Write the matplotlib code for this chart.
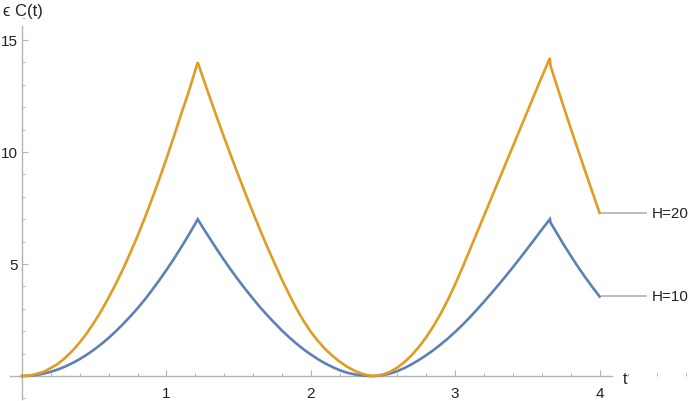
import matplotlib
matplotlib.use("Agg")
import matplotlib.pyplot as plt
from matplotlib.ticker import MultipleLocator

# ---- data (t, eps*C(t)) ----
t_vals = [0.0, 0.05, 0.1, 0.15, 0.2, 0.25, 0.3, 0.35, 0.4, 0.45, 0.5, 0.55, 0.6,
          0.65, 0.7, 0.75, 0.8, 0.85, 0.9, 0.95, 1.0, 1.05, 1.1, 1.15, 1.2, 1.217,
          1.25, 1.3, 1.35, 1.4, 1.45, 1.5, 1.55, 1.6, 1.65, 1.7, 1.75, 1.8, 1.85,
          1.9, 1.95, 2.0, 2.05, 2.1, 2.15, 2.2, 2.25, 2.3, 2.35, 2.4, 2.425,
          2.45, 2.5, 2.55, 2.6, 2.65, 2.7, 2.75, 2.8, 2.85, 2.9, 2.95, 3.0, 3.05,
          3.1, 3.15, 3.2, 3.25, 3.3, 3.35, 3.4, 3.45, 3.5, 3.55, 3.6, 3.656, 3.66,
          3.7, 3.75, 3.8, 3.85, 3.9, 3.95, 4.0]

c_h10 = [0.0, 0.012, 0.047, 0.106, 0.19, 0.295, 0.425, 0.58, 0.756, 0.957, 1.18, 1.43, 1.7,
         2.0, 2.32, 2.66, 3.02, 3.41, 3.83, 4.27, 4.73, 5.21, 5.72, 6.25, 6.8, 7.0,
         6.65, 6.15, 5.65, 5.17, 4.71, 4.27, 3.85, 3.45, 3.06, 2.7, 2.36, 2.03, 1.73,
         1.45, 1.19, 0.96, 0.75, 0.56, 0.4, 0.26, 0.15, 0.075, 0.027, 0.003, 0.0,
         0.005, 0.04, 0.11, 0.22, 0.36, 0.53, 0.72, 0.93, 1.16, 1.41, 1.68, 1.97, 2.28,
         2.61, 2.96, 3.32, 3.69, 4.07, 4.46, 4.86, 5.27, 5.69, 6.11, 6.54, 7.0, 6.85,
         6.42, 5.88, 5.37, 4.88, 4.41, 3.97, 3.55]

c_h20 = [0.0, 0.02, 0.09, 0.19, 0.36, 0.55, 0.82, 1.13, 1.5, 1.92, 2.4, 2.92, 3.5,
         4.12, 4.78, 5.5, 6.25, 7.05, 7.9, 8.78, 9.7, 10.66, 11.65, 12.6, 13.65, 14.0,
         13.38, 12.45, 11.54, 10.65, 9.78, 8.93, 8.1, 7.29, 6.5, 5.74, 5.02, 4.3, 3.64,
         3.02, 2.46, 1.97, 1.56, 1.2, 0.9, 0.64, 0.42, 0.24, 0.11, 0.02, 0.0,
         0.01, 0.07, 0.19, 0.38, 0.63, 0.94, 1.31, 1.74, 2.23, 2.79, 3.41, 4.1, 4.84,
         5.61, 6.39, 7.16, 7.94, 8.71, 9.49, 10.26, 11.04, 11.81, 12.59, 13.36, 14.2, 13.85,
         13.04, 12.04, 11.06, 10.1, 9.15, 8.21, 7.28]

series = [("H=10", c_h10, "#5E81B5"), ("H=20", c_h20, "#E19C24")]

x_major = [1, 2, 3, 4]
y_major = [5, 10, 15]

# ---- figure ----
fig = plt.figure(figsize=(6.98, 4.02), dpi=100)
ax = fig.add_axes([0, 0, 1, 1])
px_x = 144.4
px_y = 22.4
ax.set_xlim(-22 / px_x, (698 - 22) / px_x)
ax.set_ylim(-(402 - 377) / px_y, 377 / px_y)

font = ["Liberation Sans", "DejaVu Sans"]
axis_col = "#b3b3b3"
txt_col = "#222222"

for name, vals, col in series:
    ax.plot(t_vals, vals, color=col, lw=1.9, solid_joinstyle="miter", zorder=3)

# axes through origin
for s in ["top", "right"]:
    ax.spines[s].set_visible(False)
ax.spines["left"].set_position(("data", 0))
ax.spines["bottom"].set_position(("data", 0))
ax.spines["left"].set_bounds(-(400 - 377) / px_y, (377 - 27) / px_y)
ax.spines["bottom"].set_bounds(-12 / px_x, (612 - 22) / px_x)
for s in ["left", "bottom"]:
    ax.spines[s].set_color(axis_col)
    ax.spines[s].set_linewidth(1.0)

ax.set_xticks(x_major)
ax.set_yticks(y_major)
ax.xaxis.set_minor_locator(MultipleLocator(0.2))
ax.yaxis.set_minor_locator(MultipleLocator(1))
ax.tick_params(axis="both", which="major", direction="in", length=4.5, width=0.8,
               color=axis_col, labelsize=11, labelcolor=txt_col)
ax.tick_params(axis="both", which="minor", direction="in", length=2.5, width=0.7,
               color=axis_col)
ax.tick_params(axis="x", which="major", pad=7)
ax.tick_params(axis="y", which="major", pad=3)
for lab in ax.get_xticklabels() + ax.get_yticklabels():
    lab.set_family(font)

# axis labels
ax.text(-19 / px_x, (377 - 12) / px_y, "ϵ C(t)", family=font, fontsize=12,
        color=txt_col, ha="left", va="center")
ax.text((625 - 22) / px_x, -3 / px_y, "t", family=font, fontsize=11.5,
        color=txt_col, ha="center", va="center")

# end labels
t_end = t_vals[-1]
for name, vals, col in series:
    yv = vals[-1]
    ax.plot([t_end + 0.02, t_end + 0.32], [yv, yv], color="#aaaaaa", lw=1.1,
            clip_on=False)
    ax.text(t_end + 0.36, yv, name, family=font, fontsize=11, color=txt_col,
            ha="left", va="center")

fig.savefig("out.png", dpi=100)
